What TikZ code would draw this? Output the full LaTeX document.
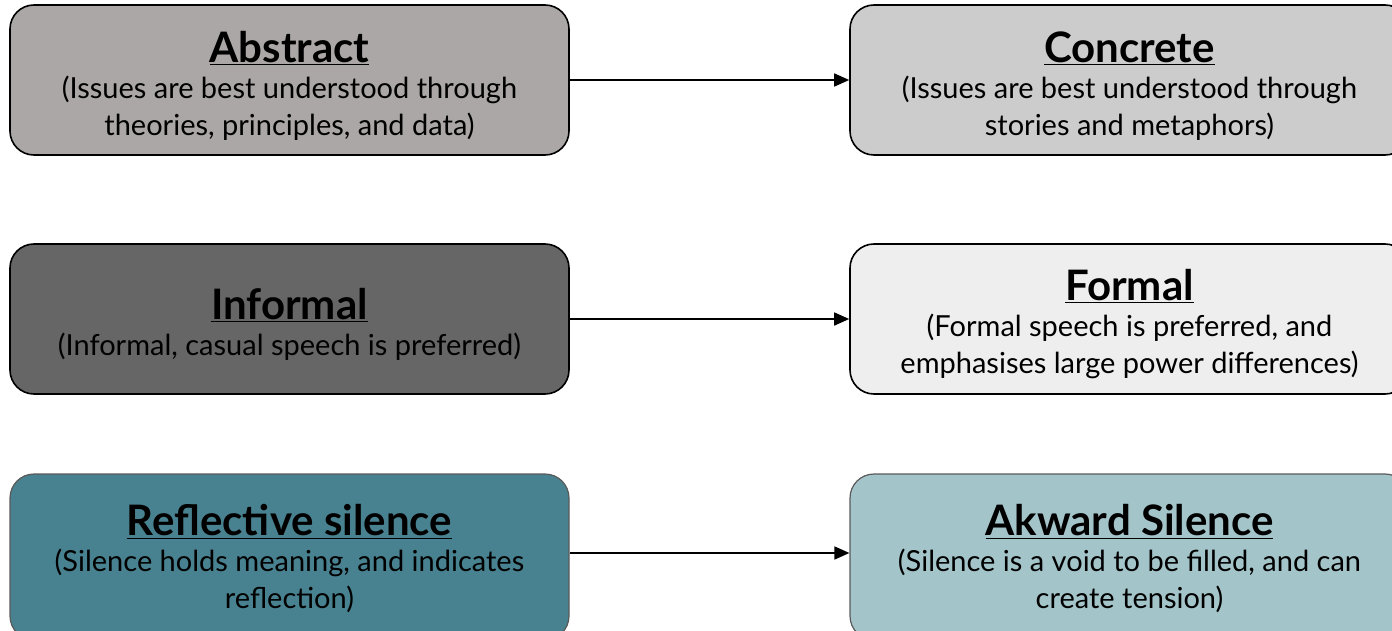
\documentclass[tikz,border=0pt]{standalone}
\usepackage{fontspec}
\setmainfont{Lato}
\usetikzlibrary{arrows.meta}
\definecolor{cAbs}{HTML}{ABA7A6}
\definecolor{cCon}{HTML}{CCCCCC}
\definecolor{cInf}{HTML}{666666}
\definecolor{cFor}{HTML}{EEEEEE}
\definecolor{cRef}{HTML}{48818F}
\definecolor{cAkw}{HTML}{A3C4C9}
\definecolor{cEdge}{HTML}{5A5A5A}
\newcommand{\ttl}[1]{{\fontsize{42}{44}\selectfont\bfseries\underline{#1}}\\[-1pt]}
\tikzset{
  box/.style={draw=black, line width=1.6pt, rounded corners=24pt, minimum width=559pt, minimum height=150pt, align=center, inner sep=0pt, font=\fontsize{29}{37}\selectfont},
  boxsoft/.style={box, draw=cEdge, line width=1.2pt, minimum height=166pt},
  txt/.style={draw=none, fill=none, align=center, inner sep=0pt, font=\fontsize{29}{37}\selectfont},
  conn/.style={line width=1.6pt, -{Triangle[length=15pt,width=13pt]}}
}
\begin{document}
\begin{tikzpicture}[x=1pt,y=-1pt]
\useasboundingbox (0,0) rectangle (1392,631);
\clip (0,0) rectangle (1392,631);
\node[box, fill=cAbs] (abs) at (289.5,80) {};
\node[box, fill=cCon] (con) at (1129.5,80) {};
\node[box, fill=cInf] (inf) at (289.5,319) {};
\node[box, fill=cFor] (for) at (1129.5,319) {};
\node[boxsoft, fill=cRef] (ref) at (289.5,557) {};
\node[boxsoft, fill=cAkw] (akw) at (1129.5,557) {};
\node[txt] (absT) at (289.5,86) {\ttl{Abstract}(Issues are best understood through\\theories, principles, and data)};
\node[txt] (conT) at (1129.5,86) {\ttl{Concrete}(Issues are best understood through\\stories and metaphors)};
\node[txt] (infT) at (289.5,324) {\ttl{Informal}(Informal, casual speech is preferred)};
\node[txt] (forT) at (1129.5,324) {\ttl{Formal}(Formal speech is preferred, and\\emphasises large power differences)};
\node[txt] (refT) at (289.5,559) {\ttl{Reflective silence}(Silence holds meaning, and indicates\\reflection)};
\node[txt] (akwT) at (1129.5,559) {\ttl{Akward Silence}(Silence is a void to be filled, and can\\create tension)};
\draw[conn] (abs.east) -- (con.west);
\draw[conn] (inf.east) -- (for.west);
\draw[conn] (ref.east |- 0,553) -- (akw.west |- 0,553);
\end{tikzpicture}
\end{document}
